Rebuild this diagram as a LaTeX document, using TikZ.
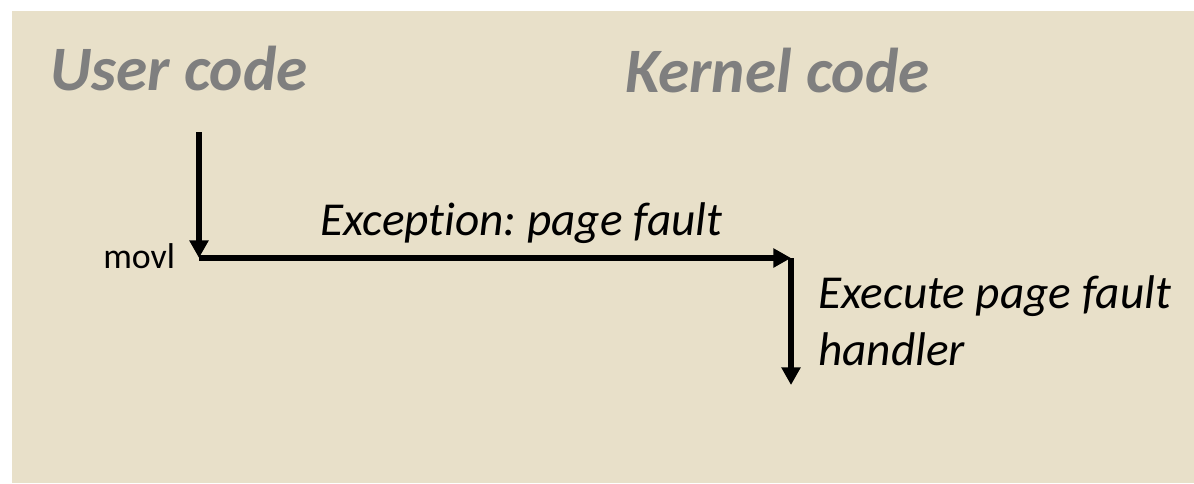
\documentclass[tikz,border=0pt]{standalone}
\usepackage{fontspec}
\setmainfont{Carlito}[Ligatures=NoCommon]
\usetikzlibrary{arrows.meta,positioning}
\definecolor{slidebg}{HTML}{E8E0C9}
\definecolor{titlegray}{HTML}{7F7F7F}
\tikzset{
  heading/.style={anchor=base west, inner sep=0pt, text=titlegray,
    font=\fontsize{45}{50}\selectfont\bfseries\itshape},
  caption/.style={anchor=base west, inner sep=0pt, align=left,
    font=\fontsize{33.6}{40.5}\selectfont\itshape},
  instr/.style={anchor=base west, inner sep=0pt, font=\fontsize{25.5}{30}\selectfont},
  flow/.style={line width=3.9pt, -{Triangle[width=13pt,length=12.5pt]}}
}
\frenchspacing
\begin{document}
\begin{tikzpicture}[x=0.025cm,y=-0.025cm]
  \useasboundingbox (0,0) rectangle (1194,483);
  \fill[slidebg] (12,11) rectangle (1194,483);
  % headings
  \node[heading] (user) at (50,90) {User code};
  \node[heading] (kernel) at (625,92) {Kernel code};
  % control flow
  \coordinate (start) at (199,132);
  \coordinate (trap) at (199,258);
  \coordinate (entry) at (791,258);
  \coordinate (done) at (791,385);
  \draw[flow] (start) -- (trap);
  \draw[flow] (trap) -- (entry);
  \draw[flow] (entry) -- (done);
  % labels
  \node[instr] (movl) at (103,268) {movl};
  \node[caption] (fault) at (320,235) {Exception: page fault};
  \node[caption] (handler) at (818,365) {Execute page fault\\handler};
\end{tikzpicture}
\end{document}
